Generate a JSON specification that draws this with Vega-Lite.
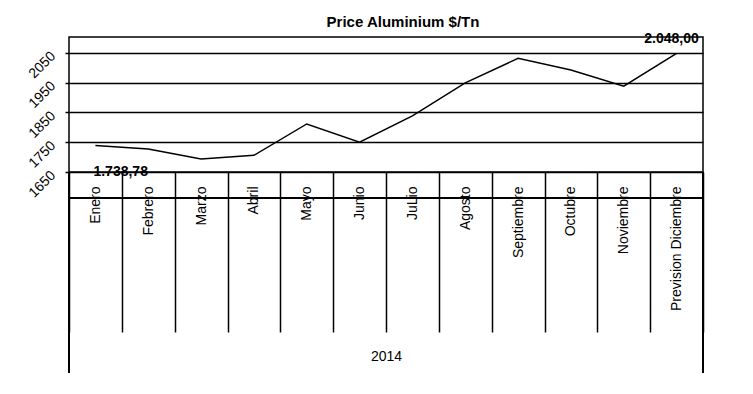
{
  "$schema": "https://vega.github.io/schema/vega-lite/v6.json",
  "width": 634,
  "height": 135,
  "autosize": {"type": "none"},
  "padding": {"left": 69, "top": 37, "right": 50, "bottom": 222},
  "title": {"text": "Price Aluminium $/Tn", "fontSize": 15, "fontWeight": "bold", "font": "Liberation Sans", "color": "black", "offset": 2, "dx": 17, "anchor": "middle"},
  "config": {
    "font": "Liberation Sans",
    "view": {"stroke": "black", "strokeWidth": 1.5},
    "locale": {"number": {"decimal": ",", "thousands": ".", "grouping": [3], "currency": ["", " $"]}}
  },
  "data": {"values": [
    {"mes": "Enero", "precio": 1738.78},
    {"mes": "Febrero", "precio": 1727},
    {"mes": "Marzo", "precio": 1694},
    {"mes": "Abril", "precio": 1706},
    {"mes": "Mayo", "precio": 1811},
    {"mes": "Junio", "precio": 1750},
    {"mes": "JuLio", "precio": 1838},
    {"mes": "Agosto", "precio": 1949},
    {"mes": "Septiembre", "precio": 2031},
    {"mes": "Octubre", "precio": 1992},
    {"mes": "Noviembre", "precio": 1938},
    {"mes": "Prevision Diciembre", "precio": 2048}
  ]},
  "layer": [
    {
      "mark": {"type": "rule", "color": "black", "strokeWidth": 1.5},
      "encoding": {"y": {"datum": 1564, "type": "quantitative"}}
    },
    {
      "mark": {"type": "rule", "color": "black", "strokeWidth": 1.5},
      "encoding": {
        "x": {"datum": "Enero", "type": "nominal", "bandPosition": 0},
        "y": {"datum": 1650, "type": "quantitative"},
        "y2": {"datum": 976}
      }
    },
    {
      "mark": {"type": "rule", "color": "black", "strokeWidth": 1.5},
      "encoding": {
        "x": {"datum": "Prevision Diciembre", "type": "nominal", "bandPosition": 1},
        "y": {"datum": 1650, "type": "quantitative"},
        "y2": {"datum": 976}
      }
    },
    {
      "mark": {"type": "line", "color": "black", "strokeWidth": 1.5},
      "encoding": {
        "x": {
          "field": "mes", "type": "nominal", "bandPosition": 0.5,
          "scale": {"type": "band", "paddingInner": 0, "paddingOuter": 0,
            "domain": ["Enero", "Febrero", "Marzo", "Abril", "Mayo", "Junio", "JuLio", "Agosto", "Septiembre", "Octubre", "Noviembre", "Prevision Diciembre"]},
          "axis": {
            "title": "2014", "titleFontSize": 14, "titleFontWeight": "normal", "titleColor": "black", "titlePadding": 17,
            "domain": false, "ticks": true, "tickBand": "extent", "tickSize": 160, "tickColor": "black", "tickWidth": 1.5,
            "labelAngle": 270, "labelAlign": "right", "labelBaseline": "middle", "labelPadding": -146,
            "labelFontSize": 14, "labelColor": "black", "labelOverlap": false, "grid": false
          }
        },
        "y": {
          "field": "precio", "type": "quantitative",
          "scale": {"domain": [1650, 2102.6], "nice": false, "zero": false},
          "axis": {
            "values": [1650, 1750, 1850, 1950, 2050], "tickCount": 10, "title": null, "domain": false,
            "grid": true, "gridColor": "black", "gridWidth": 1.5, "gridOpacity": 1,
            "tickSize": 4, "tickColor": "black", "tickWidth": 1.5,
            "labelAngle": -45, "labelAlign": "right", "labelBaseline": "top", "labelPadding": 17, "labelOffset": -4,
            "labelFontSize": 14, "labelColor": "black", "labelOverlap": false, "format": "d"
          }
        }
      }
    },
    {
      "transform": [{"filter": "datum.mes == 'Enero'"}],
      "mark": {"type": "text", "align": "left", "baseline": "alphabetic", "dx": -2, "dy": 30, "fontSize": 14, "fontWeight": "bold", "color": "black"},
      "encoding": {
        "x": {"field": "mes", "type": "nominal", "bandPosition": 0.5},
        "y": {"field": "precio", "type": "quantitative"},
        "text": {"field": "precio", "type": "quantitative", "format": ",.2f"}
      }
    },
    {
      "transform": [{"filter": "datum.mes == 'Prevision Diciembre'"}],
      "mark": {"type": "text", "align": "center", "baseline": "alphabetic", "dx": -5, "dy": -10, "fontSize": 14, "fontWeight": "bold", "color": "black"},
      "encoding": {
        "x": {"field": "mes", "type": "nominal", "bandPosition": 0.5},
        "y": {"field": "precio", "type": "quantitative"},
        "text": {"field": "precio", "type": "quantitative", "format": ",.2f"}
      }
    }
  ]
}
